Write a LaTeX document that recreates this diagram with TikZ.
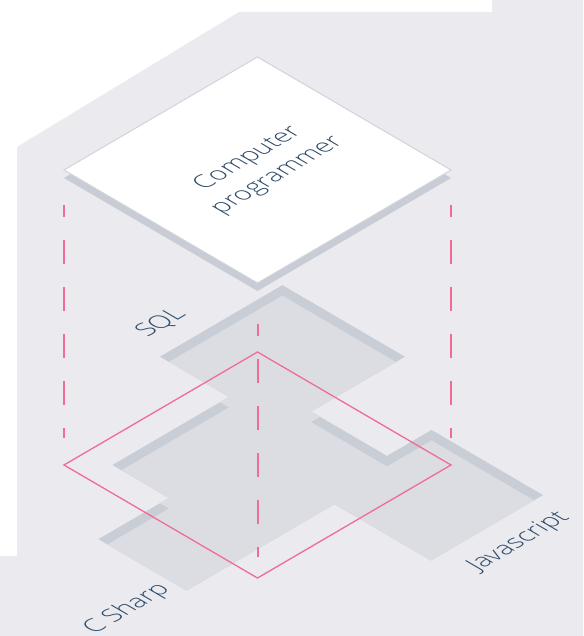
\documentclass[tikz,border=0pt]{standalone}
\usepackage{fontspec}
\setmainfont{Open Sans}[UprightFont={* Light}]
\usetikzlibrary{positioning}

\definecolor{backdrop}{HTML}{EAEAEF}
\definecolor{layerfill}{HTML}{DCDDE2}
\definecolor{layerwall}{HTML}{C9CDD5}
\definecolor{cardside}{HTML}{C8CDD5}
\definecolor{cardedge}{HTML}{D0D4DB}
\definecolor{pinkline}{HTML}{F06C97}
\definecolor{labeltext}{HTML}{2E4A68}

\begin{document}
\begin{tikzpicture}[
  x=0.5pt, y=-0.5pt,
  iso/.style={x={(0.5pt,-0.292pt)}, y={(0.5pt,0.292pt)}},
  guide/.style={draw=pinkline, line width=1pt, dash pattern=on 12pt off 11.5pt, dash phase=6pt},
  frame/.style={draw=pinkline, line width=0.65pt},
  lbl/.style={text=labeltext, font=\fontsize{12.5}{17}\selectfont,
              cm={0.8634,0.5045,-0.8634,0.5045,(0,0)}, align=center, inner sep=0pt},
]
  \useasboundingbox (0,0) rectangle (583,636);
  \fill[white] (0,0) rectangle (583,636);
  \fill[backdrop] (492,0) -- (583,0) -- (583,636) -- (0,636) -- (0,556) -- (17,556)
                  -- (17,147) -- (239,12) -- (492,12) -- cycle;

  % skill layer (recessed), drawn in iso coordinates
  \begin{scope}[shift={(257.5,465)}, iso]
    \def\skills{(-141.5,44) -- (-141.5,166.4) -- (-19,166.4) -- (-19,72.5) -- (57,72.5)
      -- (57,117) -- (168.5,117) -- (168.5,5) -- (72,5) -- (72,-143) -- (-16,-143)
      -- (-16,-72.5) -- (-72.5,-72.5) -- (-72.5,44) -- cycle}
    \fill[layerwall] \skills;
    \begin{scope}
      \clip \skills;
      \fill[layerfill, yshift=-5.25pt] \skills;
    \end{scope}
    \draw[frame] (-96.75,-96.75) -- (-96.75,96.75) -- (96.75,96.75) -- (96.75,-96.75) -- cycle;
  \end{scope}

  % top card
  \begin{scope}[shift={(257.5,170)}, iso]
    \fill[cardside, yshift=-4pt] (-96.75,-96.75) -- (-96.75,96.75) -- (96.75,96.75)
                                 -- (96.75,-96.75) -- cycle;
    \filldraw[fill=white, draw=cardedge, line width=0.5pt] (-96.75,-96.75) -- (-96.75,96.75)
                                 -- (96.75,96.75) -- (96.75,-96.75) -- cycle;
  \end{scope}

  \coordinate (cardL) at (64,178);
  \coordinate (cardB) at (257.5,291);
  \coordinate (cardR) at (451,178);
  \coordinate (baseL) at (64,465);
  \coordinate (baseB) at (257.5,578);
  \coordinate (baseR) at (451,465);

  \draw[guide, shorten <=13.5pt, shorten >=13.5pt] (cardL) -- (baseL);
  \draw[guide, shorten <=13.5pt, shorten >=13.5pt] (cardR) -- (baseR);
  \draw[guide, shorten <=16.5pt, shorten >=10.5pt] (cardB) -- (baseB);

  \node[lbl] (prog) at (263,167) {Computer\\programmer};
  \node[lbl] (sql) at (161,323) {SQL};
  \node[lbl] (csharp) at (127,609) {C Sharp};
  \node[lbl] (js) at (519,542) {Javascript};
\end{tikzpicture}
\end{document}
